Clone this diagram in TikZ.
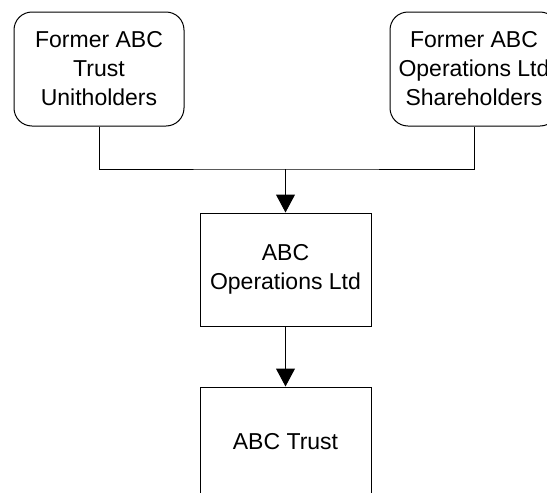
\documentclass[tikz,border=0pt]{standalone}
\usepackage{fontspec}
\setmainfont{Liberation Sans}
\usetikzlibrary{arrows.meta}
\tikzset{
  box/.style={draw=black, line width=1pt, fill=white, inner sep=0pt, align=center,
    font=\fontsize{23}{29}\selectfont, text=black},
  rbox/.style={box, rounded corners=18pt},
  conn/.style={draw=black, line width=1pt},
  arr/.style={conn, -{Triangle[width=19pt,length=18pt]}}
}
\begin{document}
\begin{tikzpicture}[x=1pt,y=-1pt]
\useasboundingbox (0,0) rectangle (547,493);
\clip (0,0) rectangle (547,493);
\node[rbox, minimum width=170pt, minimum height=114pt] (L) at (99,69) {Former ABC\\Trust\\Unitholders};
\node[rbox, minimum width=168pt, minimum height=114pt] (R) at (474,69) {Former ABC\\Operations Ltd\\Shareholders};
\node[box, minimum width=171pt, minimum height=113pt] (M) at (285.5,269.5) {ABC\\Operations Ltd};
\node[box, minimum width=171pt, minimum height=110pt] (B) at (285.5,442) {ABC Trust};
\coordinate (j) at (285.5,169);
\draw[conn] (L.south) |- (j) -| (R.south);
\draw[arr] (j) -- (M.north);
\draw[arr] (M.south) -- (B.north);
\end{tikzpicture}
\end{document}
